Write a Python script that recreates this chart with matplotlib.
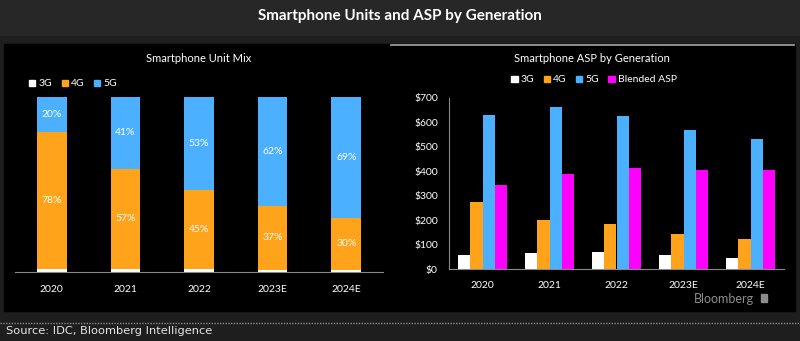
import matplotlib.pyplot as plt
import numpy as np
from matplotlib.patches import Rectangle, Patch
from matplotlib.lines import Line2D

years = ['2020', '2021', '2022', '2023E', '2024E']

# unit mix, % of units
mix_3g = [2, 2, 2, 1, 1]
mix_4g = [78, 57, 45, 37, 30]
mix_5g = [20, 41, 53, 62, 69]

# ASP, $
asp_3g = [57, 65, 68, 57, 44]
asp_4g = [276, 200, 186, 143, 123]
asp_5g = [632, 662, 626, 569, 532]
asp_blended = [344, 389, 415, 405, 405]

WHITE = '#ffffff'
ORANGE = '#ffa31a'
BLUE = '#4bb0ff'
MAGENTA = '#ff00ff'
AXIS = '#8a8a8a'

plt.rcParams['font.family'] = ['Lato', 'DejaVu Sans']

W, H = 800, 341
fig = plt.figure(figsize=(W / 100, H / 100), dpi=100)
fig.patch.set_facecolor('#1e1e1e')


def rect(x0, y0, x1, y1, color, z=-10):
    # pixel coords (top-left origin) -> figure fraction
    fig.patches.append(Rectangle((x0 / W, 1 - y1 / H), (x1 - x0) / W, (y1 - y0) / H,
                                 transform=fig.transFigure, color=color, zorder=z))


rect(0, 0, W, 35, '#272727')
rect(4, 44, 795, 311, '#000000')
rect(761, 294, 767, 302, '#8c8c8c', z=5)  # little logo mark
fig.add_artist(Line2D([391 / W, 794 / W], [1 - 44.5 / H] * 2, transform=fig.transFigure,
                      color='#a8a8a8', lw=1.2))
fig.add_artist(Line2D([0, 1], [1 - 323 / H] * 2, transform=fig.transFigure,
                      color='#8a8a8a', lw=1, ls=(0, (1, 1))))

fig.text(0.5, 1 - 16 / H, 'Smartphone Units and ASP by Generation', ha='center', va='center',
         color='white', fontsize=11, fontweight='bold')
fig.text(6 / W, 1 - 331 / H, 'Source: IDC, Bloomberg Intelligence', ha='left', va='center',
         color='#e6e6e6', fontsize=8.2, family=['Liberation Sans Narrow', 'DejaVu Sans'])
fig.text(754 / W, 1 - 299 / H, 'Bloomberg', ha='right', va='center', color='#8c8c8c', fontsize=9)

# ---- left: unit mix ----
ax1 = fig.add_axes([15 / W, 1 - 272 / H, 368 / W, 175 / H])
ax1.set_facecolor('none')
x = np.arange(len(years))
bw = 0.4
b3 = np.array(mix_3g)
b4 = b3 + np.array(mix_4g)
ax1.bar(x, mix_3g, bw, color=WHITE)
ax1.bar(x, mix_4g, bw, bottom=b3, color=ORANGE)
ax1.bar(x, mix_5g, bw, bottom=b4, color=BLUE)
for i in range(len(years)):
    ax1.text(x[i], b3[i] + mix_4g[i] / 2, f'{mix_4g[i]}%', ha='center', va='center',
             color='white', fontsize=7.5)
    ax1.text(x[i], b4[i] + mix_5g[i] / 2, f'{mix_5g[i]}%', ha='center', va='center',
             color='white', fontsize=7.5)
ax1.set_xlim(-0.5, 4.5)
ax1.set_ylim(0, 100)
ax1.set_xticks(x, years)
ax1.set_yticks([])
for s in ['top', 'right', 'left']:
    ax1.spines[s].set_visible(False)
ax1.spines['bottom'].set_color(AXIS)
ax1.tick_params(axis='x', length=0, colors='white', labelsize=7.5, pad=9)
fig.text(199 / W, 1 - 59 / H, 'Smartphone Unit Mix', ha='center', va='center',
         color='white', fontsize=8)
h1 = [Patch(color=c, label=l) for c, l in zip([WHITE, ORANGE, BLUE], ['3G', '4G', '5G'])]
fig.legend(handles=h1, loc='center left', bbox_to_anchor=(24 / W, 1 - 84 / H), ncol=3,
           frameon=False, fontsize=7.5, labelcolor='white', handlelength=0.6, handleheight=0.6,
           handletextpad=0.3, columnspacing=0.9, borderpad=0)

# ---- right: ASP ----
ax2 = fig.add_axes([449 / W, 1 - 269 / H, 335 / W, 171 / H])
ax2.set_facecolor('none')
gw = 0.18
series = [(asp_3g, WHITE), (asp_4g, ORANGE), (asp_5g, BLUE), (asp_blended, MAGENTA)]
for k, (vals, c) in enumerate(series):
    ax2.bar(x + (k - 1.5) * gw, vals, gw, color=c)
ax2.set_xlim(-0.5, 4.5)
ax2.set_ylim(0, 700)
ax2.set_xticks(x, years)
ax2.set_yticks(np.arange(0, 701, 100), [f'${v}' for v in range(0, 701, 100)])
for s in ['top', 'right']:
    ax2.spines[s].set_visible(False)
ax2.spines['bottom'].set_color(AXIS)
ax2.spines['left'].set_color(AXIS)
ax2.tick_params(axis='both', length=0, colors='white', labelsize=7.5)
ax2.tick_params(axis='x', pad=9)
ax2.tick_params(axis='y', pad=8)
fig.text(592 / W, 1 - 59 / H, 'Smartphone ASP by Generation', ha='center', va='center',
         color='white', fontsize=8)
h2 = [Patch(color=c, label=l) for c, l in
      zip([WHITE, ORANGE, BLUE, MAGENTA], ['3G', '4G', '5G', 'Blended ASP'])]
fig.legend(handles=h2, loc='center', bbox_to_anchor=(594 / W, 1 - 80 / H), ncol=4,
           frameon=False, fontsize=7.5, labelcolor='white', handlelength=0.6, handleheight=0.6,
           handletextpad=0.3, columnspacing=0.9, borderpad=0)

fig.savefig('out.png', dpi=100, facecolor=fig.get_facecolor())
